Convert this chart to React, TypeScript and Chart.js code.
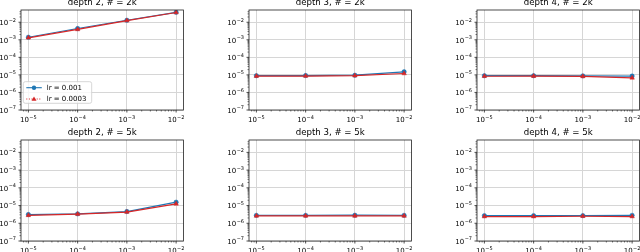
import React, { useEffect, useRef } from "react";
import { Chart, registerables } from "chart.js";
Chart.register(...registerables);

// ---- data ----
const lrValues = [1e-5, 1e-4, 1e-3, 1e-2];
const xTickExps = [-5, -4, -3, -2];
const yTickExps = [-7, -6, -5, -4, -3, -2];
const seriesLabels = ["lr = 0.001", "lr = 0.0003"];
const panelTitles = [
  "depth 2, # = 2k",
  "depth 3, # = 2k",
  "depth 4, # = 2k",
  "depth 2, # = 5k",
  "depth 3, # = 5k",
  "depth 4, # = 5k",
];
const blueD2k2 = [1.4e-3, 4.4e-3, 1.3e-2, 3.7e-2];
const redD2k2 = [1.3e-3, 3.9e-3, 1.25e-2, 3.6e-2];
const blueD3k2 = [9.0e-6, 9.2e-6, 9.6e-6, 1.5e-5];
const redD3k2 = [8.5e-6, 8.6e-6, 9.0e-6, 1.2e-5];
const blueD4k2 = [9.0e-6, 9.0e-6, 8.8e-6, 8.6e-6];
const redD4k2 = [8.4e-6, 8.5e-6, 8.2e-6, 6.8e-6];
const blueD2k5 = [3.1e-6, 3.4e-6, 4.6e-6, 1.55e-5];
const redD2k5 = [2.8e-6, 3.3e-6, 4.3e-6, 1.25e-5];
const blueD3k5 = [2.8e-6, 2.8e-6, 2.85e-6, 2.8e-6];
const redD3k5 = [2.6e-6, 2.6e-6, 2.6e-6, 2.6e-6];
const blueD4k5 = [2.7e-6, 2.7e-6, 2.7e-6, 2.8e-6];
const redD4k5 = [2.4e-6, 2.4e-6, 2.5e-6, 2.4e-6];

const blueSeries = [blueD2k2, blueD3k2, blueD4k2, blueD2k5, blueD3k5, blueD4k5];
const redSeries = [redD2k2, redD3k2, redD4k2, redD2k5, redD3k5, redD4k5];

// ---- styling / layout ----
const BLUE = "#1f77b4";
const RED = "#d62728";
const FONT = '"DejaVu Sans"';
const XMIN = Math.pow(10, -5.15);
const XMAX = Math.pow(10, -1.85);
const YMIN = 1e-7;
const YMAX = 0.05;
const PADL = 32, PADT = 14, PADR = 4, PADB = 14;
const COLS = [21, 249, 477];
const ROWS = [
  { y: 10, h: 100 },
  { y: 140, h: 101 },
];
const PW = 163;
const BASE_FS = 7;
const SUP_FS = 5;

function drawPow(ctx: CanvasRenderingContext2D, exp: number, x: number, baseline: number, align: "center" | "right") {
  const base = "10";
  const sup = "\u2212" + Math.abs(exp);
  ctx.font = `${BASE_FS}px ${FONT}`;
  const wb = ctx.measureText(base).width;
  ctx.font = `${SUP_FS}px ${FONT}`;
  const ws = ctx.measureText(sup).width;
  const total = wb + 0.4 + ws;
  const x0 = align === "center" ? x - total / 2 : x - total;
  ctx.textAlign = "left";
  ctx.textBaseline = "alphabetic";
  ctx.fillStyle = "#000";
  ctx.font = `${BASE_FS}px ${FONT}`;
  ctx.fillText(base, x0, baseline);
  ctx.font = `${SUP_FS}px ${FONT}`;
  ctx.fillText(sup, x0 + wb + 0.4, baseline - 3.4);
}

function makeDecor(title: string, showLegend: boolean) {
  return {
    id: "decor",
    afterDraw(chart: any) {
      const ctx: CanvasRenderingContext2D = chart.ctx;
      const { left, top, right, bottom } = chart.chartArea;
      const xs = chart.scales.x;
      const ys = chart.scales.y;
      ctx.save();
      // frame
      ctx.strokeStyle = "#222";
      ctx.lineWidth = 0.8;
      ctx.strokeRect(left, top, right - left, bottom - top);
      // ticks
      ctx.beginPath();
      for (const e of xTickExps) {
        const px = xs.getPixelForValue(Math.pow(10, e));
        ctx.moveTo(px, bottom);
        ctx.lineTo(px, bottom + 2.5);
      }
      for (const e of yTickExps) {
        const py = ys.getPixelForValue(Math.pow(10, e));
        ctx.moveTo(left, py);
        ctx.lineTo(left - 2.5, py);
      }
      ctx.stroke();
      ctx.lineWidth = 0.6;
      ctx.beginPath();
      for (let k = -7; k <= -1; k++) {
        for (let m = 2; m <= 9; m++) {
          const v = m * Math.pow(10, k);
          if (v > XMIN && v < XMAX) {
            const px = xs.getPixelForValue(v);
            ctx.moveTo(px, bottom);
            ctx.lineTo(px, bottom + 1.5);
          }
        }
      }
      for (let k = -8; k <= -1; k++) {
        for (let m = 2; m <= 9; m++) {
          const v = m * Math.pow(10, k);
          if (v > YMIN && v < YMAX) {
            const py = ys.getPixelForValue(v);
            ctx.moveTo(left, py);
            ctx.lineTo(left - 1.5, py);
          }
        }
      }
      ctx.stroke();
      // tick labels
      for (const e of xTickExps) {
        const px = xs.getPixelForValue(Math.pow(10, e));
        drawPow(ctx, e, px, bottom + 12, "center");
      }
      for (const e of yTickExps) {
        const py = ys.getPixelForValue(Math.pow(10, e));
        drawPow(ctx, e, left - 5, py + 2.8, "right");
      }
      // title
      ctx.fillStyle = "#000";
      ctx.font = `8.6px ${FONT}`;
      ctx.textAlign = "center";
      ctx.textBaseline = "alphabetic";
      ctx.fillText(title, (left + right) / 2, top - 5);
      // legend
      if (showLegend) {
        const bx = left + 2.3, by = bottom - 28.3, bw = 68.4, bh = 21.6;
        ctx.fillStyle = "rgba(255,255,255,0.8)";
        ctx.strokeStyle = "#cccccc";
        ctx.lineWidth = 0.8;
        ctx.beginPath();
        (ctx as any).roundRect(bx, by, bw, bh, 2);
        ctx.fill();
        ctx.stroke();
        const rowsY = [by + 6, by + 17.3];
        const colors = [BLUE, RED];
        for (let i = 0; i < 2; i++) {
          const yy = rowsY[i];
          ctx.strokeStyle = colors[i];
          ctx.lineWidth = 1.1;
          ctx.setLineDash(i === 1 ? [1, 1.6] : []);
          ctx.beginPath();
          ctx.moveTo(bx + 3, yy);
          ctx.lineTo(bx + 18.5, yy);
          ctx.stroke();
          ctx.setLineDash([]);
          ctx.fillStyle = colors[i];
          const mx = bx + 10.7;
          ctx.beginPath();
          if (i === 0) {
            ctx.arc(mx, yy, 2.2, 0, Math.PI * 2);
          } else {
            ctx.moveTo(mx, yy - 2.6);
            ctx.lineTo(mx + 2.5, yy + 1.8);
            ctx.lineTo(mx - 2.5, yy + 1.8);
            ctx.closePath();
          }
          ctx.fill();
          ctx.fillStyle = "#000";
          ctx.font = `7px ${FONT}`;
          ctx.textAlign = "left";
          ctx.textBaseline = "middle";
          ctx.fillText(seriesLabels[i], bx + 23.4, yy + 0.3);
        }
      }
      ctx.restore();
    },
  };
}

function Panel(props: { idx: number; x: number; y: number; h: number }) {
  const ref = useRef<HTMLCanvasElement | null>(null);
  const { idx, x, y, h } = props;
  const cw = PW + PADL + PADR;
  const ch = h + PADT + PADB;
  useEffect(() => {
    if (!ref.current) return;
    const blue = blueSeries[idx];
    const red = redSeries[idx];
    const chart = new Chart(ref.current, {
      type: "line",
      data: {
        datasets: [
          {
            label: seriesLabels[0],
            data: lrValues.map((v, i) => ({ x: v, y: blue[i] })),
            borderColor: BLUE,
            backgroundColor: BLUE,
            borderWidth: 1.2,
            pointStyle: "circle",
            pointRadius: 2.2,
            pointBorderWidth: 0.5,
            pointBorderColor: BLUE,
            order: 2,
          },
          {
            label: seriesLabels[1],
            data: lrValues.map((v, i) => ({ x: v, y: red[i] })),
            borderColor: RED,
            backgroundColor: RED,
            borderWidth: 1.2,
            pointStyle: "triangle",
            pointRadius: 2.6,
            pointBorderWidth: 0.5,
            pointBorderColor: RED,
            order: 1,
          },
        ],
      },
      options: {
        responsive: false,
        animation: false,
        devicePixelRatio: 1,
        layout: { padding: { left: PADL, top: PADT, right: PADR, bottom: PADB } },
        plugins: {
          legend: { display: false },
          tooltip: { enabled: false },
          title: { display: false },
        },
        scales: {
          x: {
            type: "logarithmic",
            min: XMIN,
            max: XMAX,
            afterBuildTicks: (s: any) => {
              s.ticks = xTickExps.map((e) => ({ value: Math.pow(10, e) }));
            },
            afterFit: (s: any) => {
              s.height = 0;
            },
            ticks: { display: false },
            grid: { color: "#d6d6d6", lineWidth: 1, drawTicks: false },
            border: { display: false },
          },
          y: {
            type: "logarithmic",
            min: YMIN,
            max: YMAX,
            afterBuildTicks: (s: any) => {
              s.ticks = yTickExps.map((e) => ({ value: Math.pow(10, e) }));
            },
            afterFit: (s: any) => {
              s.width = 0;
            },
            ticks: { display: false },
            grid: { color: "#d6d6d6", lineWidth: 1, drawTicks: false },
            border: { display: false },
          },
        },
      } as any,
      plugins: [makeDecor(panelTitles[idx], idx === 0)],
    });
    return () => chart.destroy();
  }, [idx]);
  return (
    <canvas
      ref={ref}
      width={cw}
      height={ch}
      style={{ position: "absolute", left: x - PADL, top: y - PADT, width: cw, height: ch }}
    />
  );
}

export default function App() {
  const panels: { idx: number; x: number; y: number; h: number }[] = [];
  ROWS.forEach((r, ri) =>
    COLS.forEach((cx, ci) => panels.push({ idx: ri * 3 + ci, x: cx, y: r.y, h: r.h }))
  );
  return (
    <div
      style={{
        position: "fixed",
        left: 0,
        top: 0,
        width: 640,
        height: 252,
        overflow: "hidden",
        background: "#fff",
      }}
    >
      {panels.map((p) => (
        <Panel key={p.idx} {...p} />
      ))}
    </div>
  );
}
